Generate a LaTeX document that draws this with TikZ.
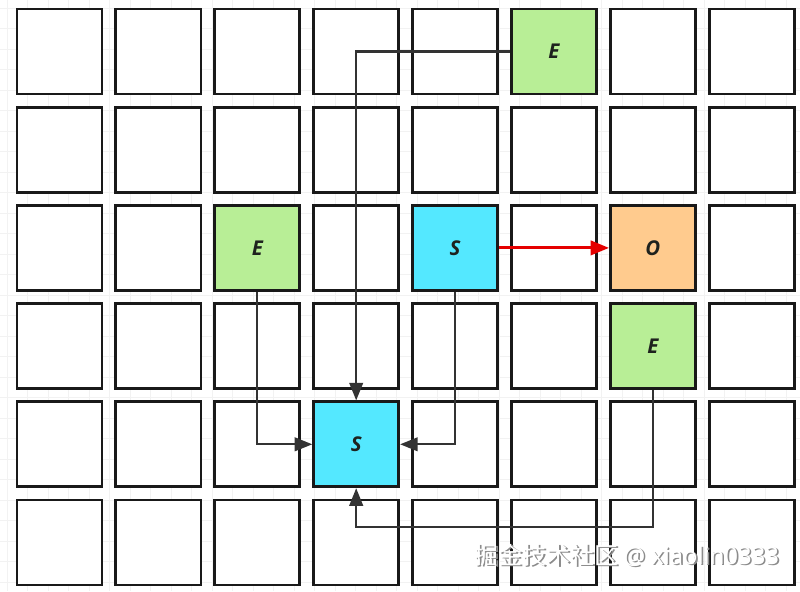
\documentclass[tikz,border=0pt]{standalone}
\usepackage{fontspec}
\setsansfont{Open Sans}
\newfontfamily\cjkfont{Noto Sans CJK SC}
\usepackage{tikz}
\usetikzlibrary{arrows.meta, positioning, calc}

\definecolor{endgreen}{RGB}{184,238,150}
\definecolor{startcyan}{RGB}{84,232,255}
\definecolor{obsorange}{RGB}{255,203,142}
\definecolor{linegray}{RGB}{51,51,51}
\definecolor{textdark}{RGB}{30,34,30}

\begin{document}
\begin{tikzpicture}[x=0.025cm, y=-0.025cm,
    cell/.style={draw=black!90, line width=2pt, fill=white, minimum width=2.125cm, minimum height=2.125cm, inner sep=0pt,
        font=\sffamily\bfseries\itshape\fontsize{14.5}{16}\selectfont, text=textdark},
    arrow/.style={-{Triangle[length=4.4mm, width=3.4mm]}, line width=1.6pt, draw=linegray},
    redarrow/.style={-{Triangle[length=4.6mm, width=3.6mm]}, line width=2pt, draw=red!90!black},
    gridline/.style={draw=black!5, line width=0.5pt}
]
    \useasboundingbox (0,0) rectangle (800,591);
    \fill[white] (0,0) rectangle (800,591);

    % Faint background grid
    \foreach \gx in {7,27.5,...,800} \draw[gridline] (\gx,0) -- (\gx,591);
    \foreach \gy in {8,28.5,...,591} \draw[gridline] (0,\gy) -- (800,\gy);

    % Grid cells
    \foreach \c in {0,...,7} {
        \foreach \r in {0,...,5} {
            \node[cell] (c-\c-\r) at ({59.5+98.9*\c},{51.5+98.2*\r}) {};
        }
    }

    % Start, end and obstacle cells
    \node[cell, fill=endgreen] (e1) at (c-5-0) {E};
    \node[cell, fill=endgreen] (e2) at (c-2-2) {E};
    \node[cell, fill=endgreen] (e3) at (c-6-3) {E};
    \node[cell, fill=startcyan] (s1) at (c-4-2) {S};
    \node[cell, fill=startcyan] (s2) at (c-3-4) {S};
    \node[cell, fill=obsorange] (o) at (c-6-2) {O};

    \coordinate (loop) at ($(s2.south)+(0,39)$);

    % Connections
    \draw[arrow] (e1.west) -| (s2.north);
    \draw[arrow] (e2.south) |- (s2.west);
    \draw[arrow] (s1.south) |- (s2.east);
    \draw[arrow] (e3.south) |- (loop) -- (s2.south);
    \draw[redarrow] (s1.east) -- (o.west);

    % Watermark
    \node[text=black!45, font=\fontsize{17}{19}\selectfont] at (628.6,556.6) {\cjkfont 掘金技术社区 \sffamily @ xiaolin0333};
    \node[text=white, font=\fontsize{17}{19}\selectfont] (wm) at (627,555) {\cjkfont 掘金技术社区 \sffamily @ xiaolin0333};
\end{tikzpicture}
\end{document}
